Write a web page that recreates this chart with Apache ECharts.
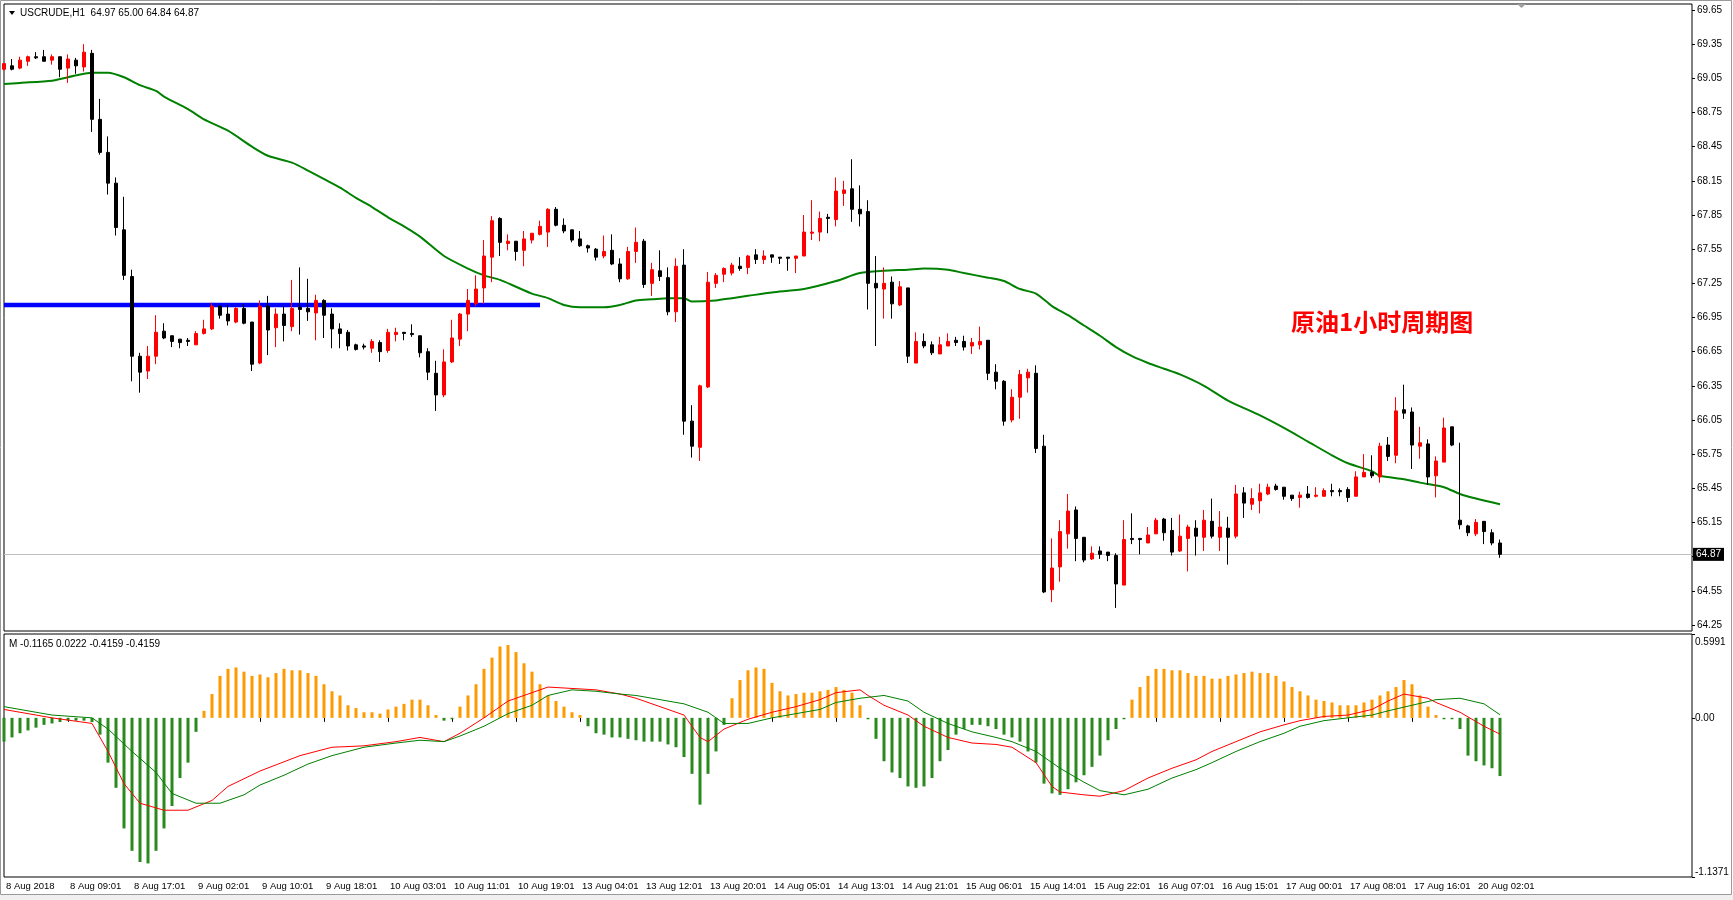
<!DOCTYPE html>
<html>
<head>
<meta charset="utf-8">
<script src="https://cdn.jsdelivr.net/npm/echarts@6/dist/echarts.min.js"></script>
<style>
html, body { margin: 0; padding: 0; background: #fff; }
#main { width: 1733px; height: 900px; }
</style>
</head>
<body>
<div id="main"></div>
<script>
'use strict'

// time labels, one every 8 bars
var timeLabels = ['8 Aug 2018', '8 Aug 09:01', '8 Aug 17:01', '9 Aug 02:01', '9 Aug 10:01', '9 Aug 18:01',
    '10 Aug 03:01', '10 Aug 11:01', '10 Aug 19:01', '13 Aug 04:01', '13 Aug 12:01', '13 Aug 20:01',
    '14 Aug 05:01', '14 Aug 13:01', '14 Aug 21:01', '15 Aug 06:01', '15 Aug 14:01', '15 Aug 22:01',
    '16 Aug 07:01', '16 Aug 15:01', '17 Aug 00:01', '17 Aug 08:01', '17 Aug 16:01', '20 Aug 02:01'];

var priceTicks = [64.25, 64.55, 64.85, 65.15, 65.45, 65.75, 66.05, 66.35, 66.65, 66.95,
    67.25, 67.55, 67.85, 68.15, 68.45, 68.75, 69.05, 69.35, 69.65];

// USCRUDE H1 bars
var opens = [
    69.13, 69.16, 69.14, 69.20, 69.24, 69.24, 69.21, 69.24, 69.14, 69.21,
    69.15, 69.27, 68.69, 68.40, 68.13, 67.72, 67.31, 66.61, 66.48, 66.61,
    66.83, 66.79, 66.76, 66.75, 66.71, 66.81, 66.85, 67.05, 66.98, 66.91,
    67.03, 66.91, 66.55, 67.05, 66.86, 66.98, 66.87, 67.04, 67.03, 66.99,
    67.10, 66.98, 66.85, 66.82, 66.71, 66.70, 66.68, 66.73, 66.66, 66.80,
    66.82, 66.81, 66.79, 66.65, 66.46, 66.27, 66.56, 66.76, 66.98, 67.07,
    67.21, 67.48, 67.82, 67.60, 67.62, 67.54, 67.63, 67.68, 67.70, 67.90,
    67.76, 67.72, 67.64, 67.58, 67.55, 67.49, 67.54, 67.42, 67.29, 67.53,
    67.62, 67.25, 67.36, 67.30, 67.00, 67.41, 66.04, 65.81, 66.34, 67.25,
    67.33, 67.34, 67.40, 67.39, 67.50, 67.46, 67.50, 67.48, 67.48, 67.47,
    67.49, 67.69, 67.70, 67.83, 67.81, 68.04, 68.08, 67.90, 67.88, 67.25,
    67.20, 67.26, 67.06, 67.21, 66.55, 66.74, 66.71, 66.63, 66.70, 66.75,
    66.74, 66.70, 66.71, 66.75, 66.47, 66.39, 66.05, 66.25, 66.42, 66.46,
    65.82, 64.56, 64.76, 65.05, 65.26, 65.02, 64.83, 64.90, 64.89, 64.86,
    64.60, 65.01, 65.01, 64.97, 65.05, 65.18, 65.08, 64.90, 65.01, 65.10,
    65.02, 65.16, 65.02, 65.10, 65.03, 65.41, 65.31, 65.34, 65.40, 65.47,
    65.46, 65.39, 65.37, 65.40, 65.38, 65.38, 65.43, 65.43, 65.44, 65.38,
    65.55, 65.59, 65.55, 65.83, 65.74, 66.14, 66.12, 65.82, 65.84, 65.56,
    65.68, 65.99, 65.17, 65.12, 65.05, 65.16, 65.06, 64.97
];
var highs = [
    69.18, 69.22, 69.24, 69.25, 69.28, 69.30, 69.26, 69.24, 69.26, 69.23,
    69.35, 69.30, 68.87, 68.54, 68.18, 68.01, 67.37, 66.64, 66.70, 66.97,
    66.90, 66.79, 66.76, 66.77, 66.83, 66.93, 67.08, 67.06, 67.06, 67.04,
    67.07, 66.91, 67.10, 67.14, 67.03, 67.05, 67.28, 67.39, 67.29, 67.15,
    67.11, 67.03, 66.90, 66.84, 66.72, 66.72, 66.76, 66.75, 66.85, 66.86,
    66.82, 66.89, 66.79, 66.68, 66.57, 66.67, 66.93, 66.99, 67.20, 67.32,
    67.63, 67.84, 67.83, 67.68, 67.62, 67.71, 67.69, 67.80, 67.91, 67.92,
    67.82, 67.72, 67.71, 67.59, 67.56, 67.67, 67.68, 67.47, 67.57, 67.74,
    67.64, 67.43, 67.54, 67.39, 67.47, 67.55, 66.18, 66.36, 67.35, 67.34,
    67.39, 67.43, 67.48, 67.50, 67.55, 67.54, 67.50, 67.48, 67.48, 67.49,
    67.85, 67.98, 67.88, 67.86, 68.18, 68.15, 68.34, 68.11, 67.98, 67.49,
    67.39, 67.31, 67.27, 67.21, 66.82, 66.81, 66.74, 66.78, 66.81, 66.78,
    66.79, 66.77, 66.87, 66.75, 66.54, 66.40, 66.32, 66.49, 66.50, 66.53,
    65.92, 65.01, 65.17, 65.40, 65.29, 65.02, 64.94, 64.94, 64.89, 64.88,
    65.17, 65.23, 65.01, 65.11, 65.19, 65.19, 65.19, 65.22, 65.13, 65.17,
    65.26, 65.36, 65.25, 65.20, 65.48, 65.46, 65.45, 65.49, 65.49, 65.49,
    65.46, 65.39, 65.42, 65.47, 65.46, 65.45, 65.49, 65.45, 65.46, 65.60,
    65.75, 65.74, 65.85, 65.90, 66.25, 66.36, 66.16, 65.99, 65.88, 65.73,
    66.07, 65.99, 65.85, 65.13, 65.18, 65.16, 65.09, 65.00
];
var lows = [
    69.12, 69.12, 69.13, 69.16, 69.22, 69.20, 69.17, 69.06, 69.01, 69.09,
    69.11, 68.58, 68.38, 68.03, 67.67, 67.28, 66.39, 66.29, 66.41, 66.54,
    66.76, 66.69, 66.68, 66.70, 66.71, 66.80, 66.84, 66.94, 66.88, 66.90,
    66.89, 66.48, 66.54, 66.62, 66.69, 66.74, 66.83, 66.80, 66.92, 66.75,
    66.77, 66.68, 66.68, 66.66, 66.66, 66.67, 66.64, 66.56, 66.64, 66.74,
    66.75, 66.78, 66.60, 66.40, 66.13, 66.25, 66.55, 66.70, 66.83, 67.05,
    67.07, 67.26, 67.49, 67.54, 67.45, 67.40, 67.60, 67.67, 67.57, 67.75,
    67.69, 67.61, 67.57, 67.52, 67.45, 67.47, 67.41, 67.26, 67.28, 67.43,
    67.21, 67.14, 67.27, 66.97, 66.91, 65.92, 65.72, 65.69, 66.33, 67.21,
    67.26, 67.32, 67.36, 67.33, 67.42, 67.42, 67.43, 67.42, 67.36, 67.34,
    67.49, 67.63, 67.62, 67.69, 67.75, 67.93, 67.79, 67.75, 67.02, 66.70,
    66.94, 66.94, 67.05, 66.55, 66.55, 66.68, 66.62, 66.63, 66.70, 66.70,
    66.66, 66.63, 66.67, 66.40, 66.32, 66.00, 66.03, 66.06, 66.29, 65.76,
    64.53, 64.45, 64.63, 64.92, 64.81, 64.80, 64.82, 64.83, 64.81, 64.40,
    64.60, 64.96, 64.87, 64.97, 65.05, 64.99, 64.86, 64.89, 64.72, 64.86,
    64.90, 65.01, 64.90, 64.78, 65.01, 65.19, 65.26, 65.23, 65.39, 65.43,
    65.35, 65.34, 65.28, 65.36, 65.37, 65.38, 65.38, 65.38, 65.33, 65.38,
    65.55, 65.54, 65.50, 65.69, 65.67, 66.06, 65.62, 65.71, 65.48, 65.37,
    65.68, 65.82, 65.09, 65.03, 65.03, 64.96, 64.95, 64.84
];
var closes = [
    69.18, 69.13, 69.21, 69.24, 69.23, 69.20, 69.24, 69.13, 69.22, 69.16,
    69.28, 68.69, 68.40, 68.13, 67.74, 67.32, 66.61, 66.47, 66.61, 66.82,
    66.77, 66.74, 66.73, 66.74, 66.81, 66.85, 67.05, 66.97, 66.92, 67.03,
    66.90, 66.54, 67.05, 66.84, 66.98, 66.88, 67.03, 67.02, 67.00, 67.10,
    66.97, 66.85, 66.81, 66.70, 66.67, 66.69, 66.74, 66.65, 66.82, 66.82,
    66.81, 66.80, 66.64, 66.47, 66.27, 66.56, 66.77, 66.98, 67.10, 67.20,
    67.49, 67.80, 67.61, 67.62, 67.53, 67.64, 67.69, 67.75, 67.90, 67.76,
    67.71, 67.63, 67.58, 67.56, 67.48, 67.53, 67.42, 67.29, 67.53, 67.61,
    67.24, 67.37, 67.31, 67.00, 67.40, 66.04, 65.82, 66.35, 67.26, 67.32,
    67.38, 67.41, 67.38, 67.49, 67.46, 67.49, 67.48, 67.47, 67.47, 67.49,
    67.70, 67.70, 67.82, 67.82, 68.06, 68.07, 67.90, 67.86, 67.25, 67.21,
    67.25, 67.07, 67.22, 66.61, 66.74, 66.70, 66.64, 66.71, 66.74, 66.73,
    66.69, 66.73, 66.74, 66.46, 66.39, 66.04, 66.25, 66.45, 66.47, 65.80,
    64.54, 64.75, 65.07, 65.25, 65.01, 64.82, 64.88, 64.87, 64.86, 64.61,
    65.00, 65.00, 65.00, 65.04, 65.17, 65.06, 64.89, 65.03, 65.11, 65.03,
    65.17, 65.03, 65.11, 65.02, 65.40, 65.32, 65.36, 65.41, 65.46, 65.44,
    65.38, 65.36, 65.39, 65.37, 65.39, 65.43, 65.42, 65.42, 65.37, 65.55,
    65.59, 65.56, 65.82, 65.73, 66.13, 66.11, 65.83, 65.85, 65.55, 65.69,
    65.98, 65.83, 65.13, 65.06, 65.15, 65.07, 64.97, 64.87
];

// moving average, read as [bar, value]
var maLine = [
    [0, 69.00], [2, 69.01], [6, 69.03], [8, 69.06], [11, 69.10], [13, 69.10], [15, 69.06], [17, 68.99],
    [19, 68.94], [20, 68.89], [23, 68.78], [25, 68.69], [28, 68.59], [31, 68.45], [33, 68.37], [36, 68.31],
    [38, 68.24], [42, 68.09], [44, 68.00], [46, 67.92], [48, 67.83], [50, 67.75], [52, 67.66], [55, 67.49],
    [58, 67.38], [60, 67.32], [62, 67.28], [64, 67.22], [66, 67.16], [68, 67.12], [70, 67.06], [72, 67.04],
    [75, 67.04], [77, 67.06], [79, 67.10], [81, 67.11], [83, 67.12], [85, 67.12], [86, 67.09], [89, 67.10],
    [91, 67.12], [93, 67.14], [96, 67.17], [100, 67.20], [104, 67.27], [107, 67.34], [110, 67.36], [113, 67.37],
    [115, 67.38], [118, 67.37], [120, 67.34], [123, 67.30], [125, 67.27], [127, 67.20], [129, 67.16], [131, 67.05],
    [133, 66.97], [135, 66.88], [137, 66.79], [139, 66.69], [141, 66.61], [143, 66.55], [145, 66.50], [147, 66.45],
    [150, 66.35], [153, 66.22], [157, 66.09], [160, 65.98], [163, 65.86], [166, 65.74], [168, 65.67], [171, 65.60],
    [172, 65.56], [175, 65.53], [177, 65.50], [180, 65.46], [182, 65.40], [184, 65.36], [187, 65.31]
];

// horizontal level drawn on the chart
var levelLine = [[0, 67.06], [67, 67.06]];
var lastPrice = 64.87;

// MACD window
var macdHist = [
    -0.17, -0.14, -0.11, -0.09, -0.07, -0.05, -0.04, -0.03, -0.02, -0.02,
    -0.02, -0.03, -0.12, -0.32, -0.50, -0.79, -0.95, -1.03, -1.04, -0.95,
    -0.79, -0.63, -0.43, -0.32, -0.10, 0.05, 0.17, 0.30, 0.35, 0.36,
    0.33, 0.30, 0.31, 0.29, 0.32, 0.35, 0.34, 0.34, 0.32, 0.30,
    0.24, 0.19, 0.16, 0.09, 0.07, 0.04, 0.04, 0.03, 0.06, 0.08,
    0.10, 0.13, 0.13, 0.09, 0.02, -0.02, -0.01, 0.08, 0.16, 0.24,
    0.35, 0.43, 0.51, 0.52, 0.47, 0.39, 0.33, 0.24, 0.16, 0.12,
    0.08, 0.04, 0.02, -0.06, -0.11, -0.12, -0.14, -0.14, -0.15, -0.16,
    -0.17, -0.17, -0.17, -0.19, -0.21, -0.28, -0.40, -0.62, -0.40, -0.24,
    -0.05, 0.14, 0.27, 0.34, 0.36, 0.35, 0.25, 0.19, 0.16, 0.17,
    0.18, 0.18, 0.19, 0.20, 0.22, 0.20, 0.18, 0.09, -0.01, -0.15,
    -0.31, -0.39, -0.43, -0.49, -0.50, -0.49, -0.43, -0.31, -0.23, -0.12,
    -0.08, -0.05, -0.05, -0.06, -0.08, -0.12, -0.14, -0.17, -0.24, -0.32,
    -0.47, -0.54, -0.55, -0.51, -0.46, -0.41, -0.35, -0.27, -0.16, -0.08,
    -0.01, 0.13, 0.22, 0.30, 0.35, 0.35, 0.34, 0.34, 0.32, 0.30,
    0.30, 0.28, 0.28, 0.30, 0.31, 0.32, 0.33, 0.32, 0.32, 0.30,
    0.26, 0.22, 0.19, 0.16, 0.13, 0.12, 0.11, 0.09, 0.09, 0.09,
    0.11, 0.13, 0.16, 0.19, 0.22, 0.27, 0.24, 0.16, 0.08, 0.02,
    -0.01, -0.01, -0.08, -0.27, -0.31, -0.34, -0.36, -0.4159
];
var macdRed = [
    [0, 0.06], [6, 0.00], [11, -0.04], [13, -0.24], [15, -0.47], [17, -0.61], [20, -0.66], [23, -0.66],
    [26, -0.59], [28, -0.49], [32, -0.38], [37, -0.27], [41, -0.21], [45, -0.20], [49, -0.17], [52, -0.14],
    [55, -0.17], [57, -0.11], [60, 0.00], [63, 0.12], [66, 0.18], [68, 0.22], [71, 0.21], [74, 0.20],
    [77, 0.17], [79, 0.14], [82, 0.08], [85, 0.02], [87, -0.14], [88, -0.17], [90, -0.08], [93, -0.01],
    [96, 0.04], [99, 0.08], [102, 0.13], [104, 0.18], [107, 0.20], [108, 0.16], [110, 0.09], [113, 0.02],
    [115, -0.06], [118, -0.14], [121, -0.18], [124, -0.19], [126, -0.21], [129, -0.32], [131, -0.49], [132, -0.53],
    [135, -0.55], [137, -0.56], [140, -0.52], [143, -0.43], [146, -0.36], [149, -0.30], [151, -0.24], [154, -0.17],
    [157, -0.10], [160, -0.05], [162, -0.02], [165, 0.01], [168, 0.02], [171, 0.06], [173, 0.12], [175, 0.17],
    [178, 0.14], [179, 0.11], [182, 0.04], [185, -0.06], [187, -0.1165]
];
var macdGreen = [
    [0, 0.08], [6, 0.02], [11, 0.00], [13, -0.08], [16, -0.24], [19, -0.39], [21, -0.54], [24, -0.61],
    [27, -0.61], [30, -0.55], [32, -0.48], [35, -0.41], [38, -0.33], [41, -0.27], [45, -0.21], [49, -0.18],
    [52, -0.16], [55, -0.17], [57, -0.13], [60, -0.06], [63, 0.03], [66, 0.09], [68, 0.16], [71, 0.20],
    [74, 0.19], [77, 0.17], [79, 0.16], [82, 0.13], [85, 0.10], [88, 0.04], [90, -0.04], [93, -0.04],
    [96, 0.00], [99, 0.03], [102, 0.06], [104, 0.11], [107, 0.14], [110, 0.16], [113, 0.12], [115, 0.04],
    [118, -0.04], [121, -0.10], [124, -0.14], [126, -0.17], [129, -0.24], [132, -0.36], [135, -0.46], [137, -0.52],
    [140, -0.55], [143, -0.51], [146, -0.43], [149, -0.37], [151, -0.32], [154, -0.24], [157, -0.17], [160, -0.11],
    [162, -0.06], [165, -0.02], [168, 0.00], [171, 0.02], [173, 0.05], [176, 0.09], [179, 0.13], [182, 0.14],
    [185, 0.10], [187, 0.0222]
];
var macdMin = -1.1371;
var macdMax = 0.5991;

// 8px per bar across the window, the rest is the right-hand shift
var slotCount = 212;
var slots = [];
for (let i = 0; i < slotCount; i++) {
    slots.push(String(i));
}
var candles = opens.map(function (o, i) {
    return [o, closes[i], lows[i], highs[i]];
});

function showLabel(idx) {
    return idx % 8 === 0 && idx / 8 < timeLabels.length;
}

var font = 'Liberation Sans, Arial, sans-serif';
var myChart = echarts.init(document.getElementById('main'), null, { renderer: 'canvas' });

var option = {
    animation: false,
    backgroundColor: '#fff',
    grid: [
        { left: 4, top: 4, width: 1688, height: 627, show: true, borderColor: '#000', borderWidth: 1, backgroundColor: '#fff', outerBoundsMode: 'none' },
        { left: 4, top: 634, width: 1688, height: 243, show: true, borderColor: '#000', borderWidth: 1, backgroundColor: '#fff', outerBoundsMode: 'none' }
    ],
    xAxis: [
        {
            type: 'category', gridIndex: 0, data: slots, boundaryGap: false,
            axisLine: { show: false }, axisTick: { show: false }, axisLabel: { show: false }, splitLine: { show: false }
        },
        {
            type: 'category', gridIndex: 1, data: slots, boundaryGap: false,
            axisLine: { show: false },
            axisTick: { show: true, interval: showLabel, length: 4, lineStyle: { color: '#000' } },
            axisLabel: {
                show: true, interval: showLabel, margin: 4, align: 'left', padding: [0, 0, 0, 2],
                color: '#000', fontFamily: font, fontSize: 9.5,
                formatter: function (v, idx) {
                    return idx % 8 === 0 ? (timeLabels[idx / 8] || '') : '';
                }
            },
            splitLine: { show: false }
        }
    ],
    yAxis: [
        {
            type: 'value', gridIndex: 0, position: 'right', min: 64.197, max: 69.703, scale: true,
            axisLine: { show: false },
            axisTick: { show: true, length: 3, customValues: priceTicks, lineStyle: { color: '#000' } },
            axisLabel: {
                show: true, customValues: priceTicks, margin: 5, padding: [4, 0, 0, 0],
                color: '#000', fontFamily: font, fontSize: 10,
                formatter: function (v) { return v.toFixed(2); }
            },
            splitLine: { show: false }
        },
        {
            type: 'value', gridIndex: 1, position: 'right', min: macdMin, max: macdMax,
            axisLine: { show: false },
            axisTick: { show: true, length: 3, customValues: [0], lineStyle: { color: '#000' } },
            axisLabel: {
                show: true, customValues: [0], margin: 3, padding: [4, 0, 0, 0],
                color: '#000', fontFamily: font, fontSize: 10,
                formatter: function (v) { return v.toFixed(2); }
            },
            splitLine: { show: false }
        },
        {
            type: 'value', gridIndex: 1, position: 'right', min: macdMin, max: macdMax,
            axisLine: { show: false },
            axisTick: { show: true, length: 3, customValues: [macdMax], lineStyle: { color: '#000' } },
            axisLabel: {
                show: true, customValues: [macdMax], margin: 3, verticalAlign: 'top', padding: [3, 0, 0, 0],
                color: '#000', fontFamily: font, fontSize: 10, formatter: function (v) { return v.toFixed(4); }
            },
            splitLine: { show: false }
        },
        {
            type: 'value', gridIndex: 1, position: 'right', min: macdMin, max: macdMax,
            axisLine: { show: false },
            axisTick: { show: true, length: 3, customValues: [macdMin], lineStyle: { color: '#000' } },
            axisLabel: {
                show: true, customValues: [macdMin], margin: 3, verticalAlign: 'bottom', color: '#000',
                fontFamily: font, fontSize: 10, formatter: function (v) { return v.toFixed(4); }
            },
            splitLine: { show: false }
        }
    ],
    series: [
        {
            name: 'MA', type: 'line', xAxisIndex: 0, yAxisIndex: 0, data: maLine,
            showSymbol: false, symbol: 'none', smooth: 0.25, z: 2, silent: true,
            lineStyle: { color: '#008000', width: 2 }
        },
        {
            name: 'level', type: 'line', xAxisIndex: 0, yAxisIndex: 0, data: levelLine,
            showSymbol: false, symbol: 'none', z: 3, silent: true,
            lineStyle: { color: '#0000FF', width: 4.5, cap: 'butt' }
        },
        {
            name: 'USCRUDE', type: 'candlestick', xAxisIndex: 0, yAxisIndex: 0, data: candles,
            barWidth: 4, z: 5, silent: true,
            itemStyle: {
                color: '#FF0000', color0: '#000000',
                borderColor: '#FF0000', borderColor0: '#000000', borderColorDoji: '#000000',
                borderWidth: 1
            },
            markLine: {
                silent: true, symbol: 'none', animation: false,
                lineStyle: { color: '#C0C0C0', width: 1, type: 'solid' },
                label: {
                    show: true, position: 'end', distance: 1,
                    formatter: lastPrice.toFixed(2),
                    color: '#fff', backgroundColor: '#000', padding: [2, 3, 1, 3],
                    fontFamily: font, fontSize: 10
                },
                data: [{ yAxis: lastPrice }]
            }
        },
        {
            name: 'hist', type: 'bar', xAxisIndex: 1, yAxisIndex: 1, data: macdHist,
            barWidth: 3, silent: true, z: 2,
            itemStyle: {
                color: function (p) { return p.value >= 0 ? '#FF9900' : '#2A8A1E'; }
            }
        },
        {
            name: 'macd', type: 'line', xAxisIndex: 1, yAxisIndex: 1, data: macdRed,
            showSymbol: false, symbol: 'none', z: 3, silent: true,
            lineStyle: { color: '#FF0000', width: 1 }
        },
        {
            name: 'signal', type: 'line', xAxisIndex: 1, yAxisIndex: 1, data: macdGreen,
            showSymbol: false, symbol: 'none', z: 3, silent: true,
            lineStyle: { color: '#008000', width: 1 }
        }
    ],
    graphic: [
        { type: 'rect', silent: true, z: -1, shape: { x: 0.5, y: 0.5, width: 1731, height: 894 }, style: { fill: null, stroke: '#9A9A9A', lineWidth: 1 } },
        { type: 'rect', silent: true, z: -1, shape: { x: 0, y: 895, width: 1733, height: 5 }, style: { fill: '#F0F0F0' } },
        { type: 'polygon', silent: true, shape: { points: [[9, 11], [15, 11], [12, 15]] }, style: { fill: '#000' } },
        { type: 'text', silent: true, left: 20, top: 8, style: { text: 'USCRUDE,H1  64.97 65.00 64.84 64.87', fill: '#000', font: '10px ' + font } },
        { type: 'polygon', silent: true, shape: { points: [[1517, 4], [1526, 4], [1521.5, 8]] }, style: { fill: '#A0A0A0' } },
        { type: 'text', silent: true, left: 9, top: 639, style: { text: 'M -0.1165 0.0222 -0.4159 -0.4159', fill: '#000', font: '10px ' + font } },
        { type: 'text', silent: true, left: 1291, top: 310, style: { text: '原油1小时周期图', fill: '#FF0000', font: 'bold 24px "Noto Sans CJK SC", sans-serif' } }
    ]
};

myChart.setOption(option);
</script>
</body>
</html>
